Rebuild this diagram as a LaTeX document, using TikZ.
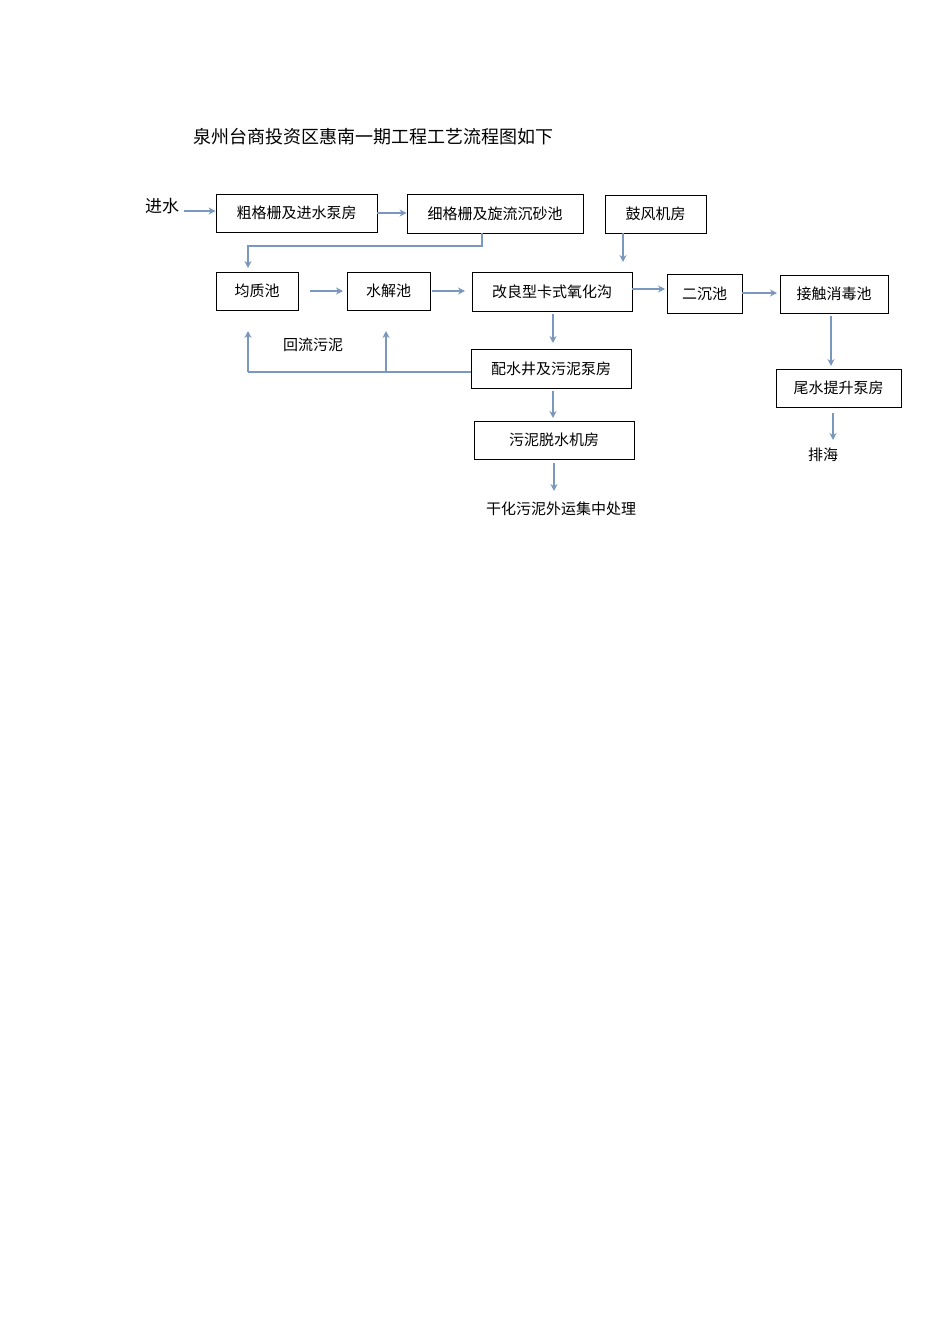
\documentclass[tikz,border=0pt]{standalone}
\usepackage{fontspec}
\setmainfont{Noto Sans CJK SC}
\usetikzlibrary{arrows.meta}
\definecolor{ar}{RGB}{122,152,190}
\tikzset{bx/.style={draw,line width=0.9pt,inner sep=0pt,font=\fontsize{15}{15}\selectfont},
 lb/.style={inner sep=0pt,font=\fontsize{15}{15}\selectfont},
 ln/.style={draw=ar,line width=1.6pt,-{Stealth[length=7pt,width=7pt]}}}
\newcommand{\bxn}[6]{\node[bx,minimum width=#4-#2,minimum height=#5-#3] (#1) at ({(#2+#4)/2},{(#3+#5)/2}) {#6};}
\begin{document}
\begin{tikzpicture}[x=1pt,y=-1pt]
\useasboundingbox (0,0) rectangle (950,1344);
\node[lb,font=\fontsize{18}{18}\selectfont] (t) at (373,137) {泉州台商投资区惠南一期工程工艺流程图如下};
\bxn{a}{216}{194}{377}{232}{粗格栅及进水泵房}
\bxn{b}{407}{194}{583}{233}{细格栅及旋流沉砂池}
\bxn{c}{605}{195}{706}{233}{鼓风机房}
\bxn{d}{216}{272}{298}{310}{均质池}
\bxn{e}{347}{272}{430}{310}{水解池}
\bxn{f}{472}{272}{632}{311}{改良型卡式氧化沟}
\bxn{g}{667}{274}{742}{313}{二沉池}
\bxn{h}{780}{275}{888}{313}{接触消毒池}
\bxn{i}{471}{349}{631}{388}{配水井及污泥泵房}
\bxn{j}{474}{421}{634}{459}{污泥脱水机房}
\bxn{k}{776}{369}{901}{407}{尾水提升泵房}
\node[lb,font=\fontsize{17}{17}\selectfont] (in) at (162,206) {进水};
\node[lb] (hl) at (313,345) {回流污泥};
\node[lb] (ph) at (823,455) {排海};
\node[lb] (gh) at (561,509) {干化污泥外运集中处理};
\draw[ln] (184,211) -- (a.west|-0,211);
\draw[ln] (a.east|-0,213) -- (b.west|-0,213);
\draw[ln] (482,233) -- (482,246) -- (248,246) -- (248,268);
\draw[ln] (623,233) -- (623,262);
\draw[ln] (d.east|-0,291) ++(12,0) -- (343,291);
\draw[ln] (432,291) -- (465,291);
\draw[ln] (f.east|-0,289) -- (665,289);
\draw[ln] (g.east|-0,293) -- (777,293);
\draw[ln] (553,314) -- (553,343);
\draw[draw=ar,line width=1.6pt] (i.west|-0,372) -- (248,372);
\draw[ln] (248,372) -- (248,331);
\draw[ln] (386,372) -- (386,331);
\draw[ln] (553,391) -- (553,418);
\draw[ln] (554,463) -- (554,491);
\draw[ln] (831,316) -- (831,366);
\draw[ln] (833,413) -- (833,440);
\end{tikzpicture}
\end{document}
